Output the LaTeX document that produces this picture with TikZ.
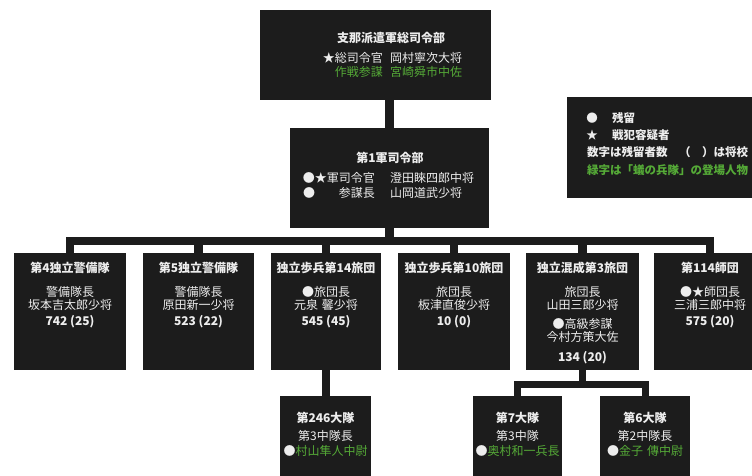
\documentclass[tikz,border=0pt]{standalone}
\usepackage{fontspec}
\setmainfont{Noto Sans CJK JP}
\usetikzlibrary{calc}
\definecolor{boxbg}{HTML}{1C1C1C}
\definecolor{txt}{HTML}{EDEDED}
\definecolor{grn}{HTML}{55AA37}
\begin{document}
\begin{tikzpicture}[x=1pt,y=-1pt,
  orgbox/.style={fill=boxbg,inner sep=0pt,outer sep=0pt,anchor=north},
  hd/.style={text=txt,inner sep=0pt,font=\bfseries\fontsize{12}{12}\selectfont},
  bd/.style={text=txt,inner sep=0pt,font=\fontsize{12}{12}\selectfont},
  gbd/.style={bd,text=grn},
  lg/.style={text=txt,inner sep=0pt,anchor=west,font=\bfseries\fontsize{11.5}{11.5}\selectfont},
  link/.style={draw=boxbg,line width=8.5pt},
  sublink/.style={draw=boxbg,line width=7pt}]
\useasboundingbox (0,0) rectangle (752,475);
\clip (0,0) rectangle (752,475);
\fill[white] (0,0) rectangle (752,475);

% top box
\node[orgbox,minimum width=231pt,minimum height=90pt] (A) at (375.5,10) {};
\node[hd] (At) at (391,38) {支那派遣軍総司令部};
\node[bd,anchor=east] (A1) at (383,58) {★総司令官};
\node[bd,anchor=west] (A2) at (390,58) {岡村寧次大将};
\node[gbd,anchor=east] (A3) at (383,72) {作戦参謀};
\node[gbd,anchor=west] (A4) at (390,72) {宮崎舜市中佐};

% second box
\node[orgbox,minimum width=199pt,minimum height=100pt] (B) at (389.5,128) {};
\node[hd] (Bt) at (390,158) {第1軍司令部};
\node[bd,anchor=east] (B1) at (375,178) {●★軍司令官};
\node[bd,anchor=west] (B2) at (390,178) {澄田睞四郎中将};
\node[bd,anchor=west] (B3) at (303,193) {●};
\node[bd,anchor=east] (B4) at (375,193) {参謀長};
\node[bd,anchor=west] (B5) at (390,193) {山岡道武少将};

% legend
\node[orgbox,anchor=north west,minimum width=200pt,minimum height=101pt] (L) at (567,97) {};
\node[lg,anchor=center] (L1) at (592,118) {●};
\node[lg] (L2) at (612,118) {残留};
\node[lg,anchor=center] (L3) at (592,135) {★};
\node[lg] (L4) at (612,135) {戦犯容疑者};
\node[lg] (L5) at (587,152) {数字は残留者数　（　）は将校};
\node[lg,text=grn] (L6) at (587,170) {緑字は「蟻の兵隊」の登場人物};

% row boxes
\node[orgbox,minimum width=112pt,minimum height=117pt] (r1) at (70,253) {};
\node[orgbox,minimum width=111pt,minimum height=117pt] (r2) at (198.5,253) {};
\node[orgbox,minimum width=110pt,minimum height=117pt] (r3) at (326,253) {};
\node[orgbox,minimum width=112pt,minimum height=117pt] (r4) at (454,253) {};
\node[orgbox,minimum width=113pt,minimum height=117pt] (r5) at (582.5,253) {};
\node[orgbox,minimum width=112pt,minimum height=117pt] (r6) at (710,253) {};

\node[hd] (r1t) at (70,268) {第4独立警備隊};
\node[bd] (r1a) at (70,292) {警備隊長};
\node[bd] (r1b) at (70,305) {坂本吉太郎少将};
\node[hd] (r1n) at (70,322) {742 (25)};

\node[hd] (r2t) at (198.5,268) {第5独立警備隊};
\node[bd] (r2a) at (198.5,292) {警備隊長};
\node[bd] (r2b) at (198.5,305) {原田新一少将};
\node[hd] (r2n) at (198.5,322) {523 (22)};

\node[hd] (r3t) at (326,268) {独立歩兵第14旅団};
\node[bd] (r3a) at (326,292) {●旅団長};
\node[bd] (r3b) at (326,305) {元泉\hspace{4pt}馨少将};
\node[hd] (r3n) at (326,322) {545 (45)};

\node[hd] (r4t) at (454,268) {独立歩兵第10旅団};
\node[bd] (r4a) at (454,292) {旅団長};
\node[bd] (r4b) at (454,305) {板津直俊少将};
\node[hd] (r4n) at (454,322) {10 (0)};

\node[hd] (r5t) at (582.5,268) {独立混成第3旅団};
\node[bd] (r5a) at (582.5,292) {旅団長};
\node[bd] (r5b) at (582.5,305) {山田三郎少将};
\node[bd] (r5c) at (582.5,324) {●高級参謀};
\node[bd] (r5d) at (582.5,337) {今村方策大佐};
\node[hd] (r5n) at (582.5,358) {134 (20)};

\node[hd] (r6t) at (710,268) {第114師団};
\node[bd] (r6a) at (710,292) {●★師団長};
\node[bd] (r6b) at (710,305) {三浦三郎中将};
\node[hd] (r6n) at (710,322) {575 (20)};

% bottom boxes
\node[orgbox,minimum width=91pt,minimum height=90pt] (b1) at (325.5,396) {};
\node[orgbox,minimum width=89pt,minimum height=90pt] (b2) at (517.5,396) {};
\node[orgbox,minimum width=90pt,minimum height=90pt] (b3) at (645,396) {};

\node[hd] (b1t) at (325.5,418) {第246大隊};
\node[bd] (b1a) at (325.5,436) {第3中隊長};
\node[bd] (b1b) at (325.5,451) {●\textcolor{grn}{村山隼人中尉}};

\node[hd] (b2t) at (517.5,418) {第7大隊};
\node[bd] (b2a) at (517.5,436) {第3中隊};
\node[bd] (b2b) at (517.5,451) {●\textcolor{grn}{奥村和一兵長}};

\node[hd] (b3t) at (645,418) {第6大隊};
\node[bd] (b3a) at (645,436) {第2中隊長};
\node[bd] (b3b) at (645,451) {●\textcolor{grn}{金子\hspace{4pt}傳中尉}};

% connectors
\coordinate (bus) at (390,241);
\coordinate (sub) at (582.5,384);
\draw[link] (A.south -| B.north) -- (B.north);
\draw[link] (B.south) -- (B.south |- bus);
\draw[link] (r1.north) |- (bus) -| (r6.north);
\foreach \n in {r2,r3,r4,r5} \draw[link] (\n.north) -- (\n.north |- bus);
\draw[link] (r3.south) -- (r3.south |- b1.north);
\draw[sublink] (r5.south) -- (sub);
\draw[sublink] (b2.north) |- (sub) -| (b3.north);
\end{tikzpicture}
\end{document}
